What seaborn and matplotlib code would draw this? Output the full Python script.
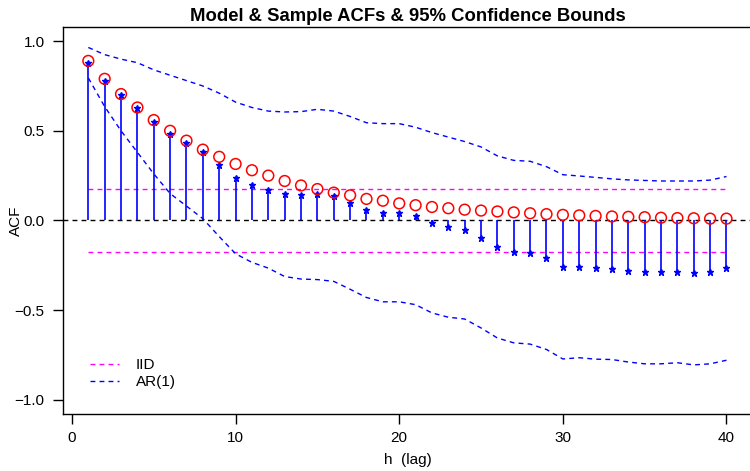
import numpy as np
import pandas as pd
import seaborn as sns
import matplotlib.pyplot as plt

# lags 1..40
lags = list(range(1, 41))

# model ACF (red circles)
model_acf = [0.89, 0.79, 0.705, 0.63, 0.56, 0.50, 0.445, 0.395, 0.355, 0.315,
             0.28, 0.25, 0.22, 0.195, 0.175, 0.155, 0.14, 0.12, 0.11, 0.095,
             0.085, 0.075, 0.068, 0.06, 0.055, 0.05, 0.045, 0.04, 0.035, 0.031,
             0.028, 0.025, 0.022, 0.02, 0.018, 0.015, 0.013, 0.012, 0.01, 0.01]

# sample ACF (blue stems)
sample_acf = [0.88, 0.78, 0.70, 0.63, 0.55, 0.48, 0.43, 0.38, 0.31, 0.237,
              0.198, 0.172, 0.146, 0.14, 0.145, 0.135, 0.098, 0.057, 0.043, 0.043,
              0.024, -0.013, -0.037, -0.056, -0.096, -0.148, -0.174, -0.18, -0.209, -0.259,
              -0.259, -0.267, -0.272, -0.283, -0.289, -0.289, -0.287, -0.293, -0.289, -0.267]

# AR(1) bounds
ar_upper = [0.965, 0.925, 0.90, 0.88, 0.84, 0.81, 0.78, 0.75, 0.71, 0.66,
            0.63, 0.61, 0.605, 0.607, 0.62, 0.61, 0.58, 0.545, 0.54, 0.54,
            0.52, 0.49, 0.465, 0.44, 0.41, 0.36, 0.335, 0.33, 0.30, 0.255,
            0.248, 0.24, 0.232, 0.226, 0.223, 0.22, 0.22, 0.22, 0.225, 0.245]
ar_lower = [0.795, 0.635, 0.50, 0.38, 0.26, 0.15, 0.08, 0.01, -0.09, -0.186,
            -0.234, -0.266, -0.313, -0.327, -0.33, -0.34, -0.384, -0.43, -0.454, -0.454,
            -0.47, -0.516, -0.54, -0.55, -0.60, -0.656, -0.683, -0.69, -0.72, -0.773,
            -0.766, -0.774, -0.776, -0.79, -0.80, -0.80, -0.794, -0.806, -0.80, -0.78]

# IID bound
iid_bound = 0.175

df = pd.DataFrame({"h": lags, "model": model_acf, "sample": sample_acf,
                   "upper": ar_upper, "lower": ar_lower})
df["iid_up"] = iid_bound
df["iid_lo"] = -iid_bound

sns.set_style("ticks")
plt.rcParams['font.family'] = ['Liberation Sans', 'DejaVu Sans']
plt.rcParams['text.color'] = 'black'
plt.rcParams['axes.labelcolor'] = 'black'
plt.rcParams['xtick.color'] = 'black'
plt.rcParams['ytick.color'] = 'black'

fig = plt.figure(figsize=(7.5, 4.71), dpi=100)
ax = fig.add_axes([0.0837, 0.121, 0.919, 0.822])

ax.axhline(0, color="black", lw=1, dashes=(3.5, 3))

sns.lineplot(data=df, x="h", y="iid_up", ax=ax, color="magenta", lw=1, dashes=False)
sns.lineplot(data=df, x="h", y="iid_lo", ax=ax, color="magenta", lw=1, dashes=False)
sns.lineplot(data=df, x="h", y="upper", ax=ax, color="blue", lw=1, dashes=False)
sns.lineplot(data=df, x="h", y="lower", ax=ax, color="blue", lw=1, dashes=False)
for ln in ax.lines[1:]:
    ln.set_dashes((3.5, 3))

ax.vlines(df["h"], 0, df["sample"], color="blue", lw=1.2)
ax.plot(df["h"], df["sample"], ls="none", marker="*", ms=5, color="blue")
sns.scatterplot(data=df, x="h", y="model", ax=ax, s=60, facecolor="none",
                edgecolor="red", linewidth=1.1, zorder=5)

iid_h = plt.Line2D([], [], color="magenta", lw=1, dashes=(3.5, 3))
ar_h = plt.Line2D([], [], color="blue", lw=1, dashes=(3.5, 3))
ax.legend([iid_h, ar_h], ["IID", "AR(1)"], loc="upper left",
          bbox_to_anchor=(0.039, 0.145), frameon=False, fontsize=11,
          borderpad=0, borderaxespad=0, handlelength=1.9, handletextpad=1.1,
          labelspacing=0.2)

ax.set_xlim(-0.56, 41.56)
ax.set_ylim(-1.08, 1.08)
ax.set_xticks([0, 10, 20, 30, 40])
ax.set_yticks([-1.0, -0.5, 0.0, 0.5, 1.0])
ax.set_yticklabels(["\u22121.0", "\u22120.5", "0.0", "0.5", "1.0"])
ax.tick_params(axis="both", length=7, width=1, labelsize=11, color="black")
ax.tick_params(axis="x", pad=5)
ax.tick_params(axis="y", pad=6)
for s in ax.spines.values():
    s.set_visible(True)
    s.set_color("black")
    s.set_linewidth(1)

ax.set_title("Model & Sample ACFs & 95% Confidence Bounds", fontsize=13.3,
             fontweight="bold", pad=4)
ax.set_xlabel("h  (lag)", fontsize=11)
ax.set_ylabel("ACF", fontsize=11)
ax.xaxis.set_label_coords(0.5, -0.1)
ax.yaxis.set_label_coords(-0.058, 0.5)

plt.savefig("out.png", dpi=100)
